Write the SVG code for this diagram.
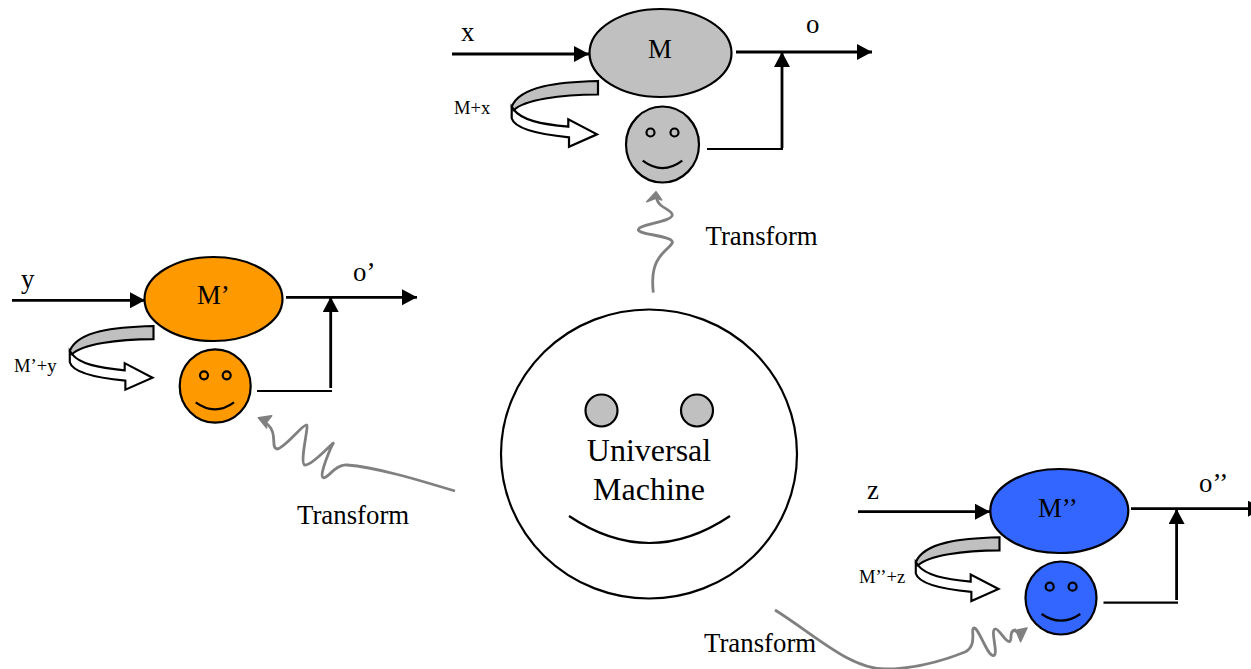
<svg xmlns="http://www.w3.org/2000/svg" width="1251" height="669" viewBox="0 0 1251 669">
<style>
text{font-family:"Liberation Serif","Times New Roman",serif;fill:#000}
.lg{font-size:26.8px}.sm{font-size:18.6px}.um{font-size:32px;text-anchor:middle}
.o{stroke:#000;stroke-width:2.2}
.gray{fill:#c0c0c0}.orange{fill:#f90}.blue{fill:#36f}
.ln{fill:none;stroke:#000;stroke-width:2.2}
.ar{fill:none;stroke:#000;stroke-width:2.8;marker-end:url(#ah)}
.wg{fill:none;stroke:#808080;stroke-width:2.8}
.wh{fill:#808080;stroke:#808080;stroke-width:1.5;stroke-linejoin:round}
</style>
<defs>
<marker id="ah" markerUnits="userSpaceOnUse" markerWidth="16" markerHeight="18" refX="15" refY="8" orient="auto"><path d="M0,0L15,8L0,16Z" fill="#000"/></marker>
<g id="loop">
<path class="o" fill="#fff" d="M511.7,106.7L511.7,118.3C515,130 545,135 569,137.3L569,146.7L597,134.3L568.3,119.3L568.3,126.7C540,124 522,120 514,110Z"/>
<path class="o gray" d="M598,81C558,82 520,86 511.7,106.7L514,110C524,100 560,94.5 598,94.5Z"/>
</g>
</defs>
<rect width="1251" height="669" fill="#fff"/>
<g id="connectors">
<path class="ar" d="M452,54H589"/>
<path class="ar" d="M736,52H872"/>
<path class="ln" d="M707,149H783"/>
<path class="ar" d="M782,148V52"/>
<path class="ar" d="M12,300.3H145"/>
<path class="ar" d="M286,297.3H417"/>
<path class="ln" d="M257,391H332"/>
<path class="ar" d="M330.7,388V297"/>
<path class="ar" d="M858,511.7H990"/>
<path class="ar" d="M1131,508.7H1263"/>
<path class="ln" d="M1103.5,602.7H1178"/>
<path class="ar" d="M1176.6,600V509"/>
<path class="wg" d="M653.3,292.7C651,272 655,262 662,254C668,247 674,244 672,241C668,235 640,235 638.3,230C638,224 672,222 672.3,215C672,209 657,208 656.5,197"/>
<path class="wh" d="M656,191.7L646.7,201.7L656.5,198L661.7,200Z"/>
<path class="wg" d="M455,491C415,479 375,467 347,465C335,464 328,479 323.3,477.7C318,476 332,445 333.3,443.3C334,441 312,466 305,465C299,464 309,426 306.7,425C303,424 284,449 277,449C270,448 279,433 266,423"/>
<path class="wh" d="M258.3,417.7L271.7,415.7L266,423L266.7,428Z"/>
<path class="wg" d="M775,610C815,635 850,669 885,669C915,669 945,660 965,652C978,646 970,628 974,628C979,628 987,656 993.5,655.7C999,655 990,630 995,629C999,628 1005,642 1009.3,641.7C1013,641 1008,630 1016,630"/>
<path class="wh" d="M1027,628L1014,630.7L1017,633L1020.6,641.7Z"/>
</g>
<g id="node-m"><ellipse class="o gray" cx="660.5" cy="53" rx="71" ry="44"/><text class="lg" x="648" y="58">M</text></g>
<g id="node-face-m"><ellipse class="o gray" cx="662.5" cy="144.5" rx="36.5" ry="38"/><circle class="o gray" cx="650.5" cy="132.5" r="4"/><circle class="o gray" cx="674.5" cy="132.5" r="4"/><path class="ln" d="M642.7,160.7Q662.5,175.5 682.3,160.7"/></g>
<g id="node-loop-m"><use href="#loop"/><text class="sm" x="454" y="113.5">M+x</text></g>
<g id="node-m1"><ellipse class="o orange" cx="213.5" cy="299" rx="69" ry="42"/><text class="lg" x="197" y="304">M’</text></g>
<g id="node-face-m1"><ellipse class="o orange" cx="215.2" cy="386" rx="35.5" ry="36.7"/><circle class="o orange" cx="204" cy="375.3" r="4"/><circle class="o orange" cx="226.7" cy="375.3" r="4"/><path class="ln" d="M195.7,402.3Q215,416.3 234,402.3"/></g>
<g id="node-loop-m1"><use href="#loop" transform="translate(153.5 326) scale(.97) translate(-598 -81)"/><text class="sm" x="14" y="371.5">M’+y</text></g>
<g id="node-m2"><ellipse class="o blue" cx="1059.3" cy="511" rx="69" ry="42"/><text class="lg" x="1038" y="517">M’’</text></g>
<g id="node-face-m2"><ellipse class="o blue" cx="1061" cy="598" rx="35.5" ry="36.5"/><circle class="o blue" cx="1049.7" cy="586.7" r="4"/><circle class="o blue" cx="1072.6" cy="586.7" r="4"/><path class="ln" d="M1041.6,614Q1061,627.4 1080.3,614"/></g>
<g id="node-loop-m2"><use href="#loop" transform="translate(999.5 537.3) scale(.97) translate(-598 -81)"/><text class="sm" x="859" y="583">M’’+z</text></g>
<g id="node-universal"><ellipse class="o" fill="#fff" cx="649" cy="454" rx="148" ry="144.5"/><circle class="o gray" cx="601.5" cy="410.5" r="16"/><circle class="o gray" cx="697" cy="410.5" r="16"/><path class="ln" d="M569,516Q649.5,570 730,516"/><text class="um" x="649" y="461">Universal</text><text class="um" x="649" y="500">Machine</text></g>
<g id="labels">
<text class="lg" x="461" y="41">x</text><text class="lg" x="806" y="33">o</text>
<text class="lg" x="21" y="288">y</text><text class="lg" x="353" y="281">o’</text>
<text class="lg" x="867" y="499">z</text><text class="lg" x="1199" y="492">o’’</text>
<text class="lg" x="705.5" y="245">Transform</text><text class="lg" x="297" y="524">Transform</text><text class="lg" x="704" y="652">Transform</text>
</g>
</svg>
